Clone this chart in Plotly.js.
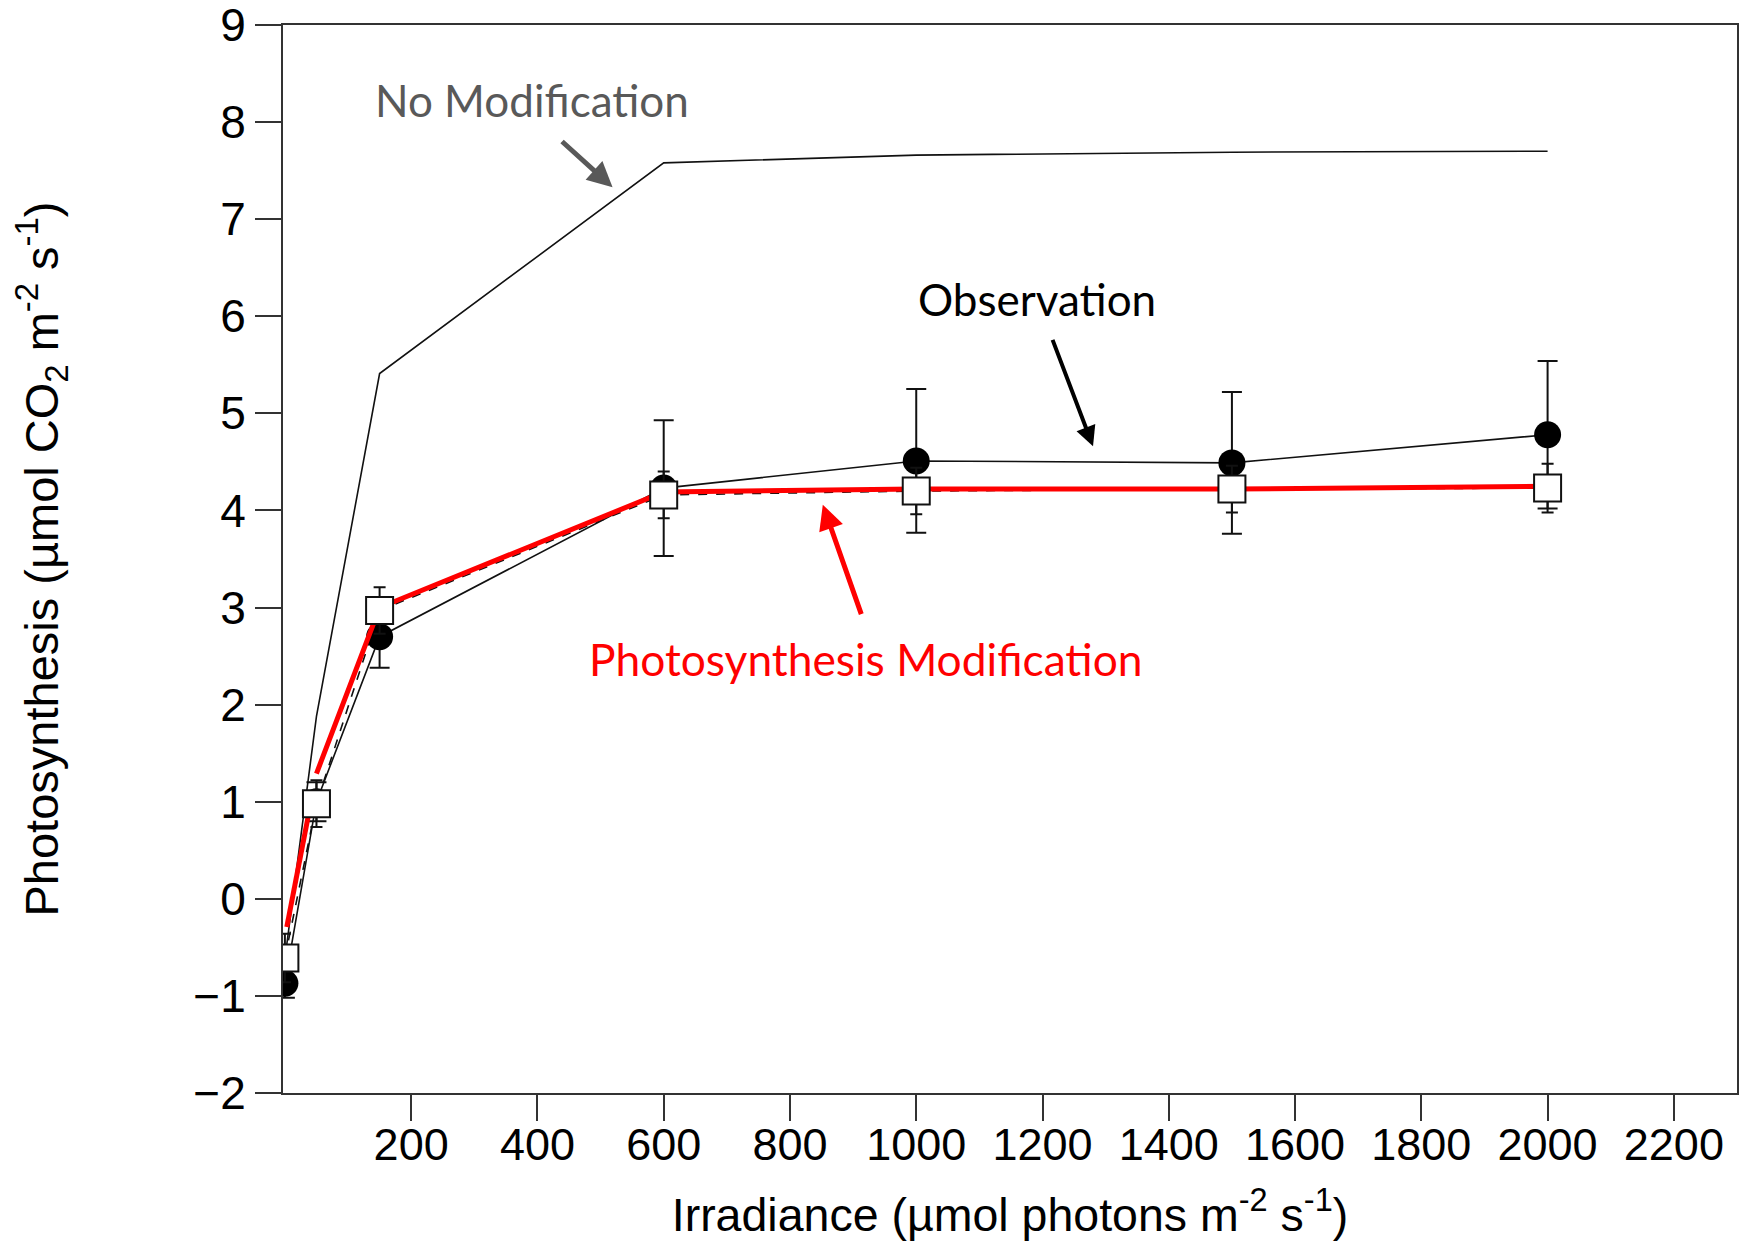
<!DOCTYPE html>
<html>
<head>
<meta charset="utf-8">
<script src="https://cdn.plot.ly/plotly-3.0.1.min.js"></script>
<style>html,body{margin:0;padding:0;background:#fff;}#chart{width:1739px;height:1246px;}</style>
</head>
<body>
<div id="chart"></div>
<script>
// ---- data ----
const irradiance     = [0, 50, 150, 600, 1000, 1500, 2000];
const observed       = [-0.87, 1.00, 2.70, 4.23, 4.51, 4.49, 4.78];
const observedErr    = [0.15, 0.20, 0.32, 0.70, 0.74, 0.73, 0.76];
const modified       = [-0.61, 0.98, 2.97, 4.16, 4.20, 4.22, 4.23];
const modifiedErr    = [0.25, 0.24, 0.24, 0.24, 0.24, 0.24, 0.25];
const noModification = [-0.62, 1.88, 5.41, 7.58, 7.66, 7.69, 7.70];
// hand-drawn red overlay line (with a break)
const redX = [3, 39, null, 50, 150, 600, 1000, 1500, 2000];
const redY = [-0.29, 0.92, null, 1.29, 3.00, 4.19, 4.22, 4.22, 4.25];
const xTicks = [200, 400, 600, 800, 1000, 1200, 1400, 1600, 1800, 2000, 2200];
const yTicks = [-2, -1, 0, 1, 2, 3, 4, 5, 6, 7, 8, 9];

const traces = [
  {x: irradiance, y: noModification, mode: 'lines', line: {color: '#111', width: 1.6}, hoverinfo: 'skip'},
  {x: irradiance, y: modified, mode: 'lines', line: {color: '#111', width: 1.6, dash: 'dash'}, hoverinfo: 'skip'},
  {x: irradiance, y: observed, mode: 'lines+markers',
   line: {color: '#111', width: 1.6},
   marker: {symbol: 'circle', size: 27, color: '#000'},
   error_y: {type: 'data', array: observedErr, visible: true, color: '#111', thickness: 2, width: 10}},
  {x: redX, y: redY, mode: 'lines', connectgaps: false, line: {color: '#ff0000', width: 5}, hoverinfo: 'skip'},
  {x: irradiance, y: modified, mode: 'markers',
   marker: {symbol: 'square', size: 27, color: '#fff', line: {color: '#111', width: 2}},
   error_y: {type: 'data', array: modifiedErr, visible: true, color: '#111', thickness: 2, width: 6}}
];

const annFont = 'Lato, "Open Sans", sans-serif';
const layout = {
  width: 1739, height: 1246,
  margin: {l: 283, r: 2, t: 25, b: 153},
  paper_bgcolor: '#fff', plot_bgcolor: '#fff',
  showlegend: false,
  font: {family: '"Liberation Sans", Arial, sans-serif', color: '#000'},
  xaxis: {
    range: [-3, 2300], tickvals: xTicks, ticktext: xTicks.map(String),
    showline: true, mirror: true, linecolor: '#333', linewidth: 2,
    ticks: 'outside', ticklen: 26, tickwidth: 2, tickcolor: '#333',
    ticklabelstandoff: -15, ticklabeloverflow: 'allow',
    showgrid: false, zeroline: false,
    tickfont: {size: 45, color: '#000'},
    title: {text: 'Irradiance (µmol photons m<sup>-2</sup> s<sup>-1</sup>)', font: {size: 46.5, color: '#000'}, standoff: 29}
  },
  yaxis: {
    range: [-2, 9], tickvals: yTicks,
    showline: true, mirror: true, linecolor: '#333', linewidth: 2,
    ticks: 'outside', ticklen: 26, tickwidth: 2, tickcolor: '#333',
    ticklabeloverflow: 'allow',
    showgrid: false, zeroline: false,
    tickfont: {size: 46, color: '#000'},
    title: {text: 'Photosynthesis (µmol CO<sub>2</sub> m<sup>-2</sup> s<sup>-1</sup>)', font: {size: 47, color: '#000'}, standoff: 120}
  },
  annotations: [
    {x: 392, y: 8.23, xref: 'x', yref: 'y', text: 'No Modification', showarrow: false,
     font: {family: annFont, size: 44, color: '#595959'}},
    {x: 1192, y: 6.18, xref: 'x', yref: 'y', text: 'Observation', showarrow: false,
     font: {family: annFont, size: 44, color: '#000'}},
    {x: 921, y: 2.48, xref: 'x', yref: 'y', text: 'Photosynthesis Modification', showarrow: false,
     font: {family: annFont, size: 44.3, color: '#ff0000'}},
    {x: 519, y: 7.33, xref: 'x', yref: 'y', text: '', showarrow: true, ax: -52, ay: -47,
     arrowhead: 2, arrowsize: 1, arrowwidth: 5, arrowcolor: '#595959', standoff: 0},
    {x: 1280, y: 4.66, xref: 'x', yref: 'y', text: '', showarrow: true, ax: -41, ay: -108,
     arrowhead: 2, arrowsize: 1, arrowwidth: 4, arrowcolor: '#000', standoff: 0},
    {x: 852, y: 4.06, xref: 'x', yref: 'y', text: '', showarrow: true, ax: 39, ay: 111,
     arrowhead: 2, arrowsize: 1, arrowwidth: 5, arrowcolor: '#ff0000', standoff: 0}
  ]
};

Plotly.newPlot('chart', traces, layout, {displayModeBar: false, staticPlot: true});
</script>
</body>
</html>
